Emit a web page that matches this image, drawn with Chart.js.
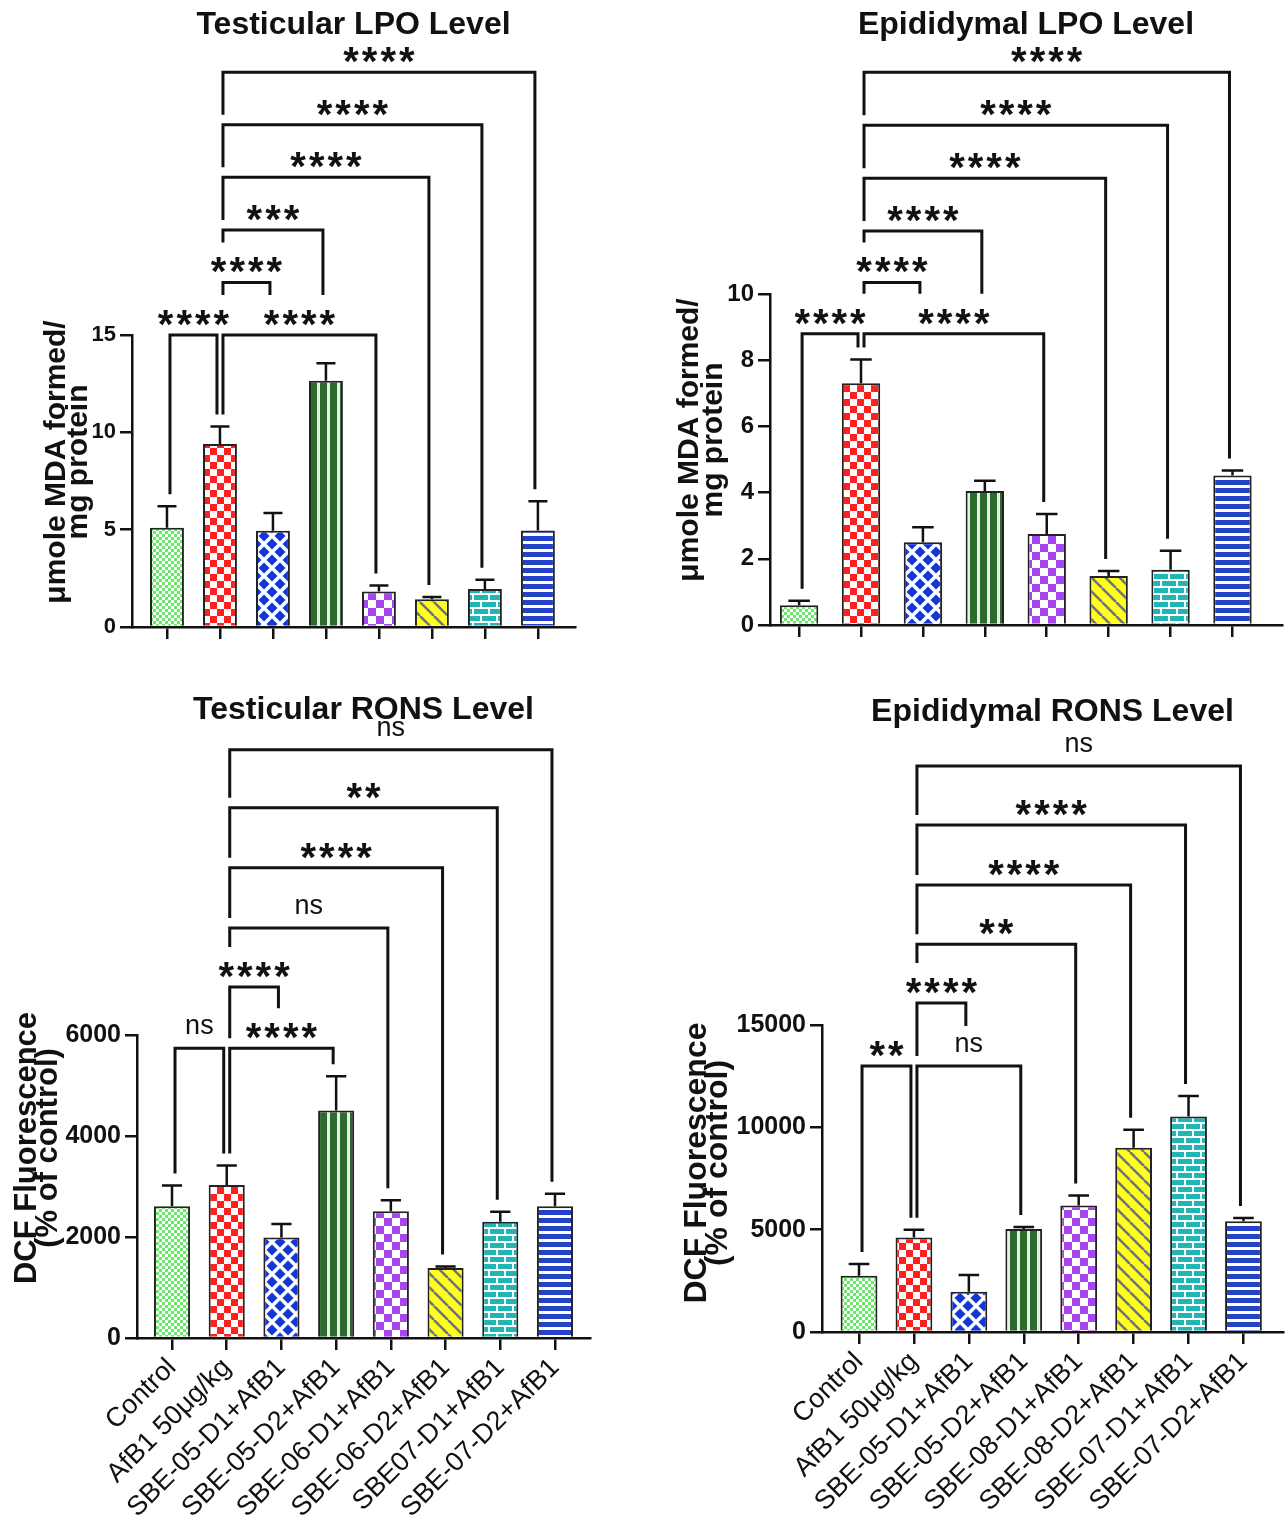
<!DOCTYPE html>
<html>
<head>
<meta charset="utf-8">
<script src="https://cdn.jsdelivr.net/npm/chart.js@4.4.0/dist/chart.umd.min.js"></script>
<style>
  body { margin: 0; background: #fff; width: 1285px; height: 1528px; position: relative; overflow: hidden; }
  canvas { position: absolute; }
</style>
</head>
<body>
<canvas id="c1" width="640" height="690" style="left:0;top:0"></canvas>
<canvas id="c2" width="645" height="690" style="left:640px;top:0"></canvas>
<canvas id="c3" width="640" height="838" style="left:0;top:690px"></canvas>
<canvas id="c4" width="645" height="838" style="left:640px;top:690px"></canvas>
<script>
// groups
const lpoGroups = ['Control', 'AfB1 50μg/kg', 'SBE-05-D1+AfB1', 'SBE-05-D2+AfB1', 'SBE-06-D1+AfB1', 'SBE-06-D2+AfB1', 'SBE-07-D1+AfB1', 'SBE-07-D2+AfB1'];
const testRonsGroups = ['Control', 'AfB1 50μg/kg', 'SBE-05-D1+AfB1', 'SBE-05-D2+AfB1', 'SBE-06-D1+AfB1', 'SBE-06-D2+AfB1', 'SBE07-D1+AfB1', 'SBE-07-D2+AfB1'];
const epiRonsGroups = ['Control', 'AfB1 50μg/kg', 'SBE-05-D1+AfB1', 'SBE-05-D2+AfB1', 'SBE-08-D1+AfB1', 'SBE-08-D2+AfB1', 'SBE-07-D1+AfB1', 'SBE-07-D2+AfB1'];

// mean and SD (upper error only)
const testLpoMean = [5.1, 9.4, 4.95, 12.65, 1.83, 1.42, 1.95, 4.96];
const testLpoErr = [1.1, 0.9, 0.9, 0.9, 0.3, 0.12, 0.48, 1.5];
const epiLpoMean = [0.6, 7.3, 2.5, 4.05, 2.75, 1.48, 1.67, 4.52];
const epiLpoErr = [0.13, 0.72, 0.45, 0.31, 0.6, 0.15, 0.57, 0.15];
const testRonsMean = [2610, 3030, 1990, 4505, 2510, 1385, 2300, 2610];
const testRonsErr = [410, 385, 265, 680, 220, 30, 200, 245];
const epiRonsMean = [2750, 4620, 1970, 5030, 6180, 9000, 10525, 5410];
const epiRonsErr = [575, 380, 820, 100, 490, 885, 1000, 165];

// y ticks
const testLpoTicks = [0, 5, 10, 15];
const epiLpoTicks = [0, 2, 4, 6, 8, 10];
const testRonsTicks = [0, 2000, 4000, 6000];
const epiRonsTicks = [0, 5000, 10000, 15000];

// significance brackets: [from, to, height (data units), label]
const testLpoSig = [[0, 1, 15, '****'], [1, 4, 15, '****'], [1, 2, 17.7, '****'], [1, 3, 20.4, '***'], [1, 5, 23.1, '****'], [1, 6, 25.8, '****'], [1, 7, 28.5, '****']];
const epiLpoSig = [[0, 1, 8.8, '****'], [1, 4, 8.8, '****'], [1, 2, 10.35, '****'], [1, 3, 11.9, '****'], [1, 5, 13.5, '****'], [1, 6, 15.1, '****'], [1, 7, 16.7, '****']];
const testRonsSig = [[0, 1, 5740, 'ns'], [1, 3, 5740, '****'], [1, 2, 6950, '****'], [1, 4, 8120, 'ns'], [1, 5, 9310, '****'], [1, 6, 10500, '**'], [1, 7, 11650, 'ns']];
const epiRonsSig = [[0, 1, 13000, '**'], [1, 3, 13000, 'ns'], [1, 2, 16070, '****'], [1, 4, 18950, '**'], [1, 5, 21840, '****'], [1, 6, 24770, '****'], [1, 7, 27650, 'ns']];

const FONT = '"Liberation Sans", Arial, sans-serif';

function tile(ctx, w, h, draw) {
    const c = document.createElement('canvas');
    c.width = w; c.height = h;
    const t = c.getContext('2d');
    draw(t);
    return ctx.createPattern(c, 'repeat');
}

function makeFills(ctx) {
    return [
        tile(ctx, 6, 6, t => { t.fillStyle = '#fff'; t.fillRect(0, 0, 6, 6); t.fillStyle = '#6fe46f'; t.fillRect(0, 0, 3, 3); t.fillRect(3, 3, 3, 3); }),
        tile(ctx, 14, 14, t => { t.fillStyle = '#fff'; t.fillRect(0, 0, 14, 14); t.fillStyle = '#ff2020'; t.fillRect(0, 0, 7, 7); t.fillRect(7, 7, 7, 7); }),
        tile(ctx, 16, 16, t => {
            t.fillStyle = '#fff'; t.fillRect(0, 0, 16, 16); t.fillStyle = '#1237d6';
            [[8, 8], [0, 0], [16, 0], [0, 16], [16, 16]].forEach(([cx, cy]) => {
                t.beginPath(); t.moveTo(cx, cy - 5.5); t.lineTo(cx + 5.5, cy); t.lineTo(cx, cy + 5.5); t.lineTo(cx - 5.5, cy); t.closePath(); t.fill();
            });
        }),
        tile(ctx, 10, 4, t => { t.fillStyle = '#2d6a2d'; t.fillRect(0, 0, 10, 4); t.fillStyle = '#e6f2e6'; t.fillRect(7, 0, 3, 4); }),
        tile(ctx, 16, 16, t => { t.fillStyle = '#fff'; t.fillRect(0, 0, 16, 16); t.fillStyle = '#a945ee'; t.fillRect(0, 0, 8, 8); t.fillRect(8, 8, 8, 8); }),
        tile(ctx, 14, 14, t => {
            t.fillStyle = '#ffff1a'; t.fillRect(0, 0, 14, 14);
            t.strokeStyle = '#6b6b9e'; t.lineWidth = 2.5;
            [-14, 0, 14].forEach(x0 => { t.beginPath(); t.moveTo(x0, 0); t.lineTo(x0 + 14, 14); t.stroke(); });
        }),
        tile(ctx, 16, 14, t => {
            t.fillStyle = '#22b5b5'; t.fillRect(0, 0, 16, 14); t.fillStyle = '#fff';
            t.fillRect(0, 5, 16, 2); t.fillRect(0, 12, 16, 2); t.fillRect(0, 0, 2, 5); t.fillRect(8, 7, 2, 5);
        }),
        tile(ctx, 4, 8, t => { t.fillStyle = '#2342c8'; t.fillRect(0, 0, 4, 8); t.fillStyle = '#fff'; t.fillRect(0, 5, 4, 3); })
    ];
}

const errorBars = {
    id: 'errorBars',
    afterDatasetsDraw(chart, args, opts) {
        const ctx = chart.ctx, ys = chart.scales.y;
        const meta = chart.getDatasetMeta(0);
        const values = chart.data.datasets[0].data;
        ctx.save();
        ctx.strokeStyle = '#111';
        ctx.lineWidth = 2.5;
        meta.data.forEach((bar, i) => {
            const m = values[i].y, e = opts.errs[i];
            const y0 = ys.getPixelForValue(m), y1 = ys.getPixelForValue(m + e);
            const half = bar.width * 0.28;
            ctx.beginPath();
            ctx.moveTo(bar.x, y0); ctx.lineTo(bar.x, y1);
            ctx.moveTo(bar.x - half, y1); ctx.lineTo(bar.x + half, y1);
            ctx.stroke();
        });
        ctx.restore();
    }
};

const brackets = {
    id: 'brackets',
    afterDraw(chart, args, opts) {
        const ctx = chart.ctx, xs = chart.scales.x, ys = chart.scales.y;
        const values = chart.data.datasets[0].data;
        ctx.save();
        const items = opts.items.map(([a, b, h, label]) => {
            const star = label !== 'ns';
            ctx.font = star ? 'bold 40px ' + FONT : '27px ' + FONT;
            ctx.letterSpacing = star ? '3px' : '0px';
            const w = ctx.measureText(label).width;
            const x1 = xs.getPixelForValue(a) + (b > a ? 3 : -3);
            const x2 = xs.getPixelForValue(b) + (a > b ? 3 : -3);
            const y = ys.getPixelForValue(h);
            return { a, b, x1, x2, y, label, star, w, cx: (x1 + x2) / 2, top: y - 30 };
        });
        const legEnd = (it, idx, x) => {
            let end = ys.getPixelForValue(values[idx].y + opts.errs[idx]) - 12;
            items.forEach(o => {
                if (o.y <= it.y + 1) return;
                if (x >= Math.min(o.x1, o.x2) - 2 && x <= Math.max(o.x1, o.x2) + 2) end = Math.min(end, o.y - 10);
                if (x >= o.cx - o.w / 2 - 2 && x <= o.cx + o.w / 2 + 2) end = Math.min(end, o.top - 10);
            });
            return end;
        };
        ctx.strokeStyle = '#111';
        ctx.fillStyle = '#111';
        ctx.lineWidth = 3;
        items.forEach(it => {
            ctx.beginPath();
            ctx.moveTo(it.x1, legEnd(it, it.a, it.x1));
            ctx.lineTo(it.x1, it.y);
            ctx.lineTo(it.x2, it.y);
            ctx.lineTo(it.x2, legEnd(it, it.b, it.x2));
            ctx.stroke();
            ctx.font = it.star ? 'bold 40px ' + FONT : '27px ' + FONT;
            ctx.letterSpacing = it.star ? '3px' : '0px';
            ctx.textAlign = 'center';
            ctx.textBaseline = 'alphabetic';
            ctx.fillText(it.label, it.cx + (it.star ? 1.5 : 0), it.star ? it.y + 3 : it.y - 14);
        });
        ctx.restore();
    }
};

const yTitle = {
    id: 'yTitle',
    afterDraw(chart, args, opts) {
        const ctx = chart.ctx;
        ctx.save();
        ctx.fillStyle = '#111';
        ctx.font = 'bold ' + opts.size + 'px ' + FONT;
        ctx.textAlign = 'center';
        ctx.textBaseline = 'middle';
        opts.lines.forEach((line, i) => {
            ctx.save();
            ctx.translate(opts.x + i * opts.gap, opts.y);
            ctx.rotate(-Math.PI / 2);
            ctx.fillText(line, 0, 0);
            ctx.restore();
        });
        ctx.restore();
    }
};

function drawPanel(id, p) {
    const ctx = document.getElementById(id).getContext('2d');
    return new Chart(ctx, {
        type: 'bar',
        data: {
            datasets: [{
                data: p.means.map((v, i) => ({ x: i, y: v })),
                backgroundColor: makeFills(ctx),
                borderColor: '#222',
                borderWidth: 2,
                barPercentage: p.barPct,
                categoryPercentage: 1
            }]
        },
        options: {
            responsive: false,
            animation: false,
            devicePixelRatio: 1,
            layout: { padding: { left: 0, right: p.padRight, top: 0, bottom: 0 } },
            plugins: {
                legend: { display: false },
                tooltip: { enabled: false },
                title: {
                    display: true, text: p.title, fullSize: false, color: '#111',
                    font: { family: FONT, size: 32, weight: 'bold', lineHeight: 1 },
                    padding: { top: p.titleTop, bottom: p.titleBottom }
                },
                errorBars: { errs: p.errs },
                brackets: { items: p.sig, errs: p.errs },
                yTitle: { lines: p.yTitle, x: p.yTitleX, y: p.yTitleY, gap: p.yTitleGap, size: p.yTitleSize }
            },
            scales: {
                x: {
                    type: 'linear', min: p.xMin, max: p.xMax, offset: false,
                    afterFit: s => { s.height = p.xHeight; },
                    afterBuildTicks: s => { s.ticks = p.groups.map((_, i) => ({ value: i })); },
                    grid: { display: true, drawOnChartArea: false, drawTicks: true, tickLength: 12, color: '#111', lineWidth: 2.5, offset: false },
                    border: { display: true, color: '#111', width: 2.5 },
                    ticks: {
                        display: p.showLabels, autoSkip: false, minRotation: 45, maxRotation: 45, padding: 2,
                        color: '#111', font: { family: FONT, size: 27 },
                        callback: v => p.groups[v]
                    }
                },
                y: {
                    min: 0, max: p.yTicks[p.yTicks.length - 1],
                    afterFit: s => { s.width = p.yWidth; },
                    afterBuildTicks: s => { s.ticks = p.yTicks.map(v => ({ value: v })); },
                    grid: { display: true, drawOnChartArea: false, drawTicks: true, tickLength: 12, color: '#111', lineWidth: 2.5 },
                    border: { display: true, color: '#111', width: 2.5 },
                    ticks: { padding: 4, color: '#111', font: { family: FONT, size: p.tickSize, weight: 'bold' }, callback: v => String(v) }
                }
            }
        },
        plugins: [errorBars, brackets, yTitle]
    });
}

drawPanel('c1', {
    title: 'Testicular LPO Level', groups: lpoGroups, means: testLpoMean, errs: testLpoErr, sig: testLpoSig, yTicks: testLpoTicks,
    showLabels: false, xMin: -0.66, xMax: 7.7, barPct: 0.64, padRight: 65, yWidth: 132, xHeight: 63,
    titleTop: 9, titleBottom: 294, tickSize: 22,
    yTitle: ['μmole MDA formed/', 'mg protein'], yTitleX: 57, yTitleY: 462, yTitleGap: 22, yTitleSize: 30
});
drawPanel('c2', {
    title: 'Epididymal LPO Level', groups: lpoGroups, means: epiLpoMean, errs: epiLpoErr, sig: epiLpoSig, yTicks: epiLpoTicks,
    showLabels: false, xMin: -0.47, xMax: 7.8, barPct: 0.62, padRight: 3, yWidth: 130, xHeight: 65,
    titleTop: 9, titleBottom: 253, tickSize: 24,
    yTitle: ['μmole MDA formed/', 'mg protein'], yTitleX: 50, yTitleY: 440, yTitleGap: 24, yTitleSize: 30
});
drawPanel('c3', {
    title: 'Testicular RONS Level', groups: testRonsGroups, means: testRonsMean, errs: testRonsErr, sig: testRonsSig, yTicks: testRonsTicks,
    showLabels: true, xMin: -0.64, xMax: 7.64, barPct: 0.66, padRight: 50, yWidth: 137, xHeight: 190,
    titleTop: 4, titleBottom: 309, tickSize: 25,
    yTitle: ['DCF Fluorescence', '(% of control)'], yTitleX: 27, yTitleY: 458, yTitleGap: 21, yTitleSize: 31
});
drawPanel('c4', {
    title: 'Epididymal RONS Level', groups: epiRonsGroups, means: epiRonsMean, errs: epiRonsErr, sig: epiRonsSig, yTicks: epiRonsTicks,
    showLabels: true, xMin: -0.674, xMax: 7.72, barPct: 0.67, padRight: 2, yWidth: 182, xHeight: 196,
    titleTop: 6, titleBottom: 297, tickSize: 25,
    yTitle: ['DCF Fluorescence', '(% of control)'], yTitleX: 57, yTitleY: 473, yTitleGap: 21, yTitleSize: 32
});
</script>
</body>
</html>
